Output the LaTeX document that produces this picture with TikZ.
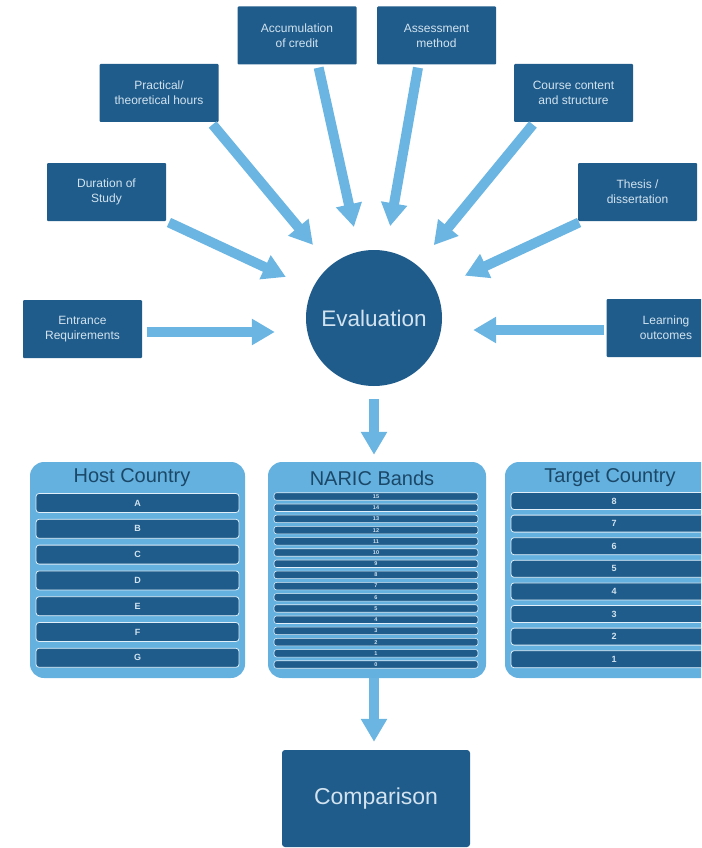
\documentclass[tikz,border=0pt]{standalone}
\usepackage{fontspec}
\setmainfont{Liberation Sans}
\usetikzlibrary{arrows.meta}
\definecolor{dblue}{HTML}{1F5C8B}
\definecolor{ablue}{HTML}{6BB5E2}
\definecolor{pblue}{HTML}{64B1DF}
\definecolor{ttext}{HTML}{1B4868}
\definecolor{ltext}{HTML}{D2E3EF}
\begin{document}
\begin{tikzpicture}[x=1pt,y=-1pt,
  crit/.style={fill=dblue, minimum width=119pt, minimum height=58pt, inner sep=0pt,
    align=center, text=ltext, font=\fontsize{12}{15}\selectfont, rounded corners=1pt},
  big/.style={draw=ablue, line width=10pt, -{Triangle[width=25pt,length=23pt]},
    shorten >=28pt, shorten <=3pt},
  panel/.style={fill=pblue, rounded corners=14pt, minimum height=216pt, inner sep=0pt},
  ptitle/.style={text=ttext, font=\fontsize{20}{24}\selectfont, inner sep=0pt},
  row/.style={fill=dblue, draw=white!80!pblue, line width=0.8pt, rounded corners=3pt,
    inner sep=0pt, text=ltext},
  hrow/.style={row, minimum width=203pt, minimum height=19pt, font=\fontsize{9}{10}\selectfont\bfseries},
  nrow/.style={row, minimum width=204pt, minimum height=7.5pt, rounded corners=2.5pt, line width=0.6pt, font=\fontsize{5.5}{6}\selectfont\bfseries},
  trow/.style={hrow, minimum width=206pt, minimum height=17pt}
]
\useasboundingbox (0,0) rectangle (701,848);
\clip (0,0) rectangle (701,848);

% criteria
\node[crit] (acc) at (297,35.5) {Accumulation\\of credit};
\node[crit] (ass) at (436.5,35.5) {Assessment\\method};
\node[crit] (prac) at (159,93) {Practical/\\theoretical hours};
\node[crit] (crs) at (573.5,93) {Course content\\and structure};
\node[crit] (dur) at (106.5,192) {Duration of\\Study};
\node[crit] (ths) at (637.5,192) {Thesis /\\dissertation};
\node[crit] (ent) at (82.5,329) {Entrance\\Requirements};
\node[crit] (lrn) at (666,328) {Learning\\outcomes};

% evaluation
\node[circle, fill=dblue, minimum size=136pt, inner sep=0pt, text=ltext,
  font=\fontsize{22.5}{27}\selectfont] (eval) at (374,318) {Evaluation};

% arrows into evaluation
\draw[big, shorten >=25pt] ([xshift=21pt]acc.south) -- (eval);
\draw[big, shorten >=25pt] ([xshift=-18pt]ass.south) -- (eval);
\draw[big, shorten >=27pt] ([xshift=-8pt]prac.south east) -- (eval);
\draw[big, shorten >=26pt] ([xshift=21pt]crs.south west) -- (eval);
\draw[big, shorten >=29pt] (dur.south east) -- (eval);
\draw[big, shorten >=32pt] ([xshift=4pt]ths.south west) -- (eval);
\draw[big, shorten <=5pt, shorten >=31pt] ([yshift=-3pt]ent.east) -- ([yshift=-3pt]ent.east -| eval.west);
\draw[big, shorten <=2pt, shorten >=31pt] ([yshift=-2pt]lrn.west) -- ([yshift=-2pt]lrn.west -| eval.east);

% panels
\node[panel, minimum width=215pt] (host) at (137.5,570) {};
\node[ptitle] (hostt) at (132,478) {Host Country};
\foreach \l [count=\i from 0] in {A,B,C,D,E,F,G}
  \node[hrow] (h\l) at (137.5,503+25.8*\i) {\l};

\node[panel, minimum width=218pt] (naric) at (377,570) {};
\node[ptitle] (narict) at (372,478) {NARIC Bands};
\foreach \n [count=\i from 0] in {15,14,...,0}
  \node[nrow] (n\n) at (376,496.5+11.2*\i) {\n};

\node[panel, minimum width=215pt] (targ) at (612.5,570) {};
\node[ptitle] (targt) at (610,478) {Target Country};
\foreach \n [count=\i from 0] in {8,7,...,1}
  \node[trow] (t\n) at (614,501+22.6*\i) {\n};

% comparison
\node[fill=dblue, minimum width=188pt, minimum height=97pt, rounded corners=3pt,
  inner sep=0pt, text=ltext, font=\fontsize{23}{28}\selectfont] (cmp) at (376,798.5) {Comparison};

% vertical arrows
\draw[big, shorten <=13pt, shorten >=7pt] (eval.south) -- (eval.south |- naric.north);
\draw[big, shorten <=0pt, shorten >=8pt] (eval.south |- naric.south) -- (eval.south |- cmp.north);
\end{tikzpicture}
\end{document}
